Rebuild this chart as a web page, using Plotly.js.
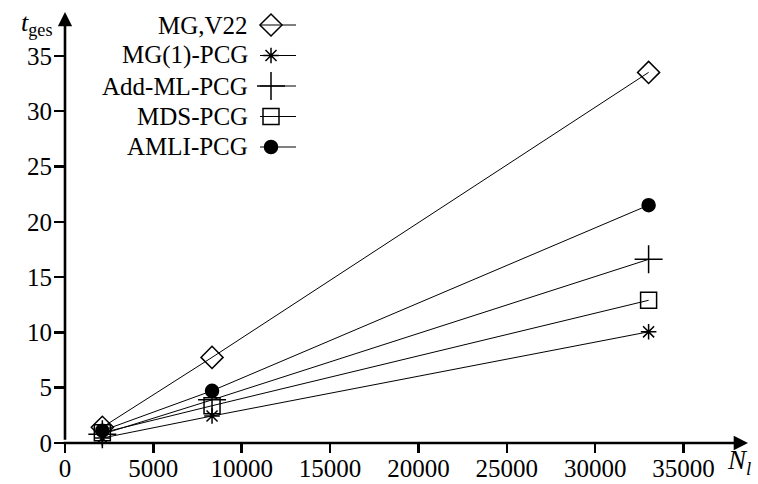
<!DOCTYPE html>
<html>
<head>
<meta charset="utf-8">
<script src="https://cdn.plot.ly/plotly-3.0.1.min.js"></script>
<style>html,body{margin:0;padding:0;background:#fff;}#chart{width:758px;height:484px;}</style>
</head>
<body>
<div id="chart"></div>
<script>
// ---- data ----
const N_l = [2113, 8321, 33025];
const seriesNames = ["MG,V22", "MG(1)-PCG", "Add-ML-PCG", "MDS-PCG", "AMLI-PCG"];
const mgV22   = [1.42, 7.74, 33.5];
const mg1pcg  = [0.45, 2.44, 10.05];
const addML   = [0.80, 3.90, 16.6];
const mdsPCG  = [0.93, 3.37, 12.9];
const amliPCG = [1.11, 4.72, 21.5];
const xTicks = [0, 5000, 10000, 15000, 20000, 25000, 30000, 35000];
const yTicks = [0, 5, 10, 15, 20, 25, 30, 35];

// ---- styles ----
const seriesValues = [mgV22, mg1pcg, addML, mdsPCG, amliPCG];
const symbols = ["diamond-open", "asterisk-open", "cross-thin-open", "square-open", "circle"];
const sizes = [17, 13, 20, 16, 13];
const FONT = "Liberation Serif, Times New Roman, serif";

// plot geometry (pixels)
const L = 65, R = 10, T = 12, B = 41;
const W = 758 - L - R, H = 484 - T - B;
const XMAX = 38650, YMAX = 38.96;

const traces = seriesValues.map((v, i) => ({
  x: N_l, y: v, type: "scatter", mode: "lines+markers",
  line: {color: "#000", width: 1},
  marker: {symbol: symbols[i], size: sizes[i], color: "#000",
           line: {color: "#000", width: 1.5}},
  showlegend: false, cliponaxis: false, hoverinfo: "skip"
}));

// custom legend: symbol to the right of the text
const legX0 = 260 - L, legX1 = 296 - L, legXM = 271 - L, legY0 = 25 - T, legDY = 30.5;
seriesNames.forEach((n, i) => {
  const yy = legY0 + i * legDY;
  traces.push({x: [legX0, legX1], y: [yy, yy], xaxis: "x2", yaxis: "y2", type: "scatter",
    mode: "lines", line: {color: "#000", width: 1}, showlegend: false, hoverinfo: "skip"});
  traces.push({x: [legXM], y: [yy], xaxis: "x2", yaxis: "y2", type: "scatter",
    mode: "markers", marker: {symbol: symbols[i], size: sizes[i], color: "#000",
    line: {color: "#000", width: 1.5}}, showlegend: false, hoverinfo: "skip", cliponaxis: false});
});

const annotations = seriesNames.map((n, i) => ({
  xref: "paper", yref: "paper", x: (250 - L) / W, y: 1 - (legY0 + i * legDY) / H,
  xanchor: "right", yanchor: "middle", text: n, showarrow: false,
  font: {family: FONT, size: 25, color: "#000"}
}));
// axis arrows
annotations.push({xref: "x", yref: "y", axref: "x", ayref: "y", x: XMAX, y: 0, ax: -250, ay: 0,
  text: " ", showarrow: true, arrowhead: 2, arrowsize: 1.1, arrowwidth: 2.6, arrowcolor: "#000"});
annotations.push({xref: "x", yref: "y", axref: "x", ayref: "y", x: 0, y: YMAX, ax: 0, ay: -0.6,
  text: " ", showarrow: true, arrowhead: 2, arrowsize: 1.1, arrowwidth: 2.6, arrowcolor: "#000"});
// axis titles
annotations.push({xref: "paper", yref: "paper", x: (36 - L) / W, y: 1 - (24 - T) / H,
  xanchor: "center", yanchor: "middle", text: "<i>t</i><sub>ges</sub>", showarrow: false,
  font: {family: FONT, size: 26, color: "#000"}});
annotations.push({xref: "paper", yref: "paper", x: (739 - L) / W, y: 1 - (462 - T) / H,
  xanchor: "center", yanchor: "middle", text: "<i>N</i><sub><i>l</i></sub>", showarrow: false,
  font: {family: FONT, size: 27, color: "#000"}});

const layout = {
  width: 758, height: 484,
  margin: {l: L, r: R, t: T, b: B, pad: 0},
  paper_bgcolor: "#fff", plot_bgcolor: "#fff",
  showlegend: false,
  xaxis: {range: [0, XMAX], tickvals: xTicks, ticktext: xTicks.map(String),
    showgrid: false, zeroline: false, showline: false,
    ticks: "outside", ticklen: 9, tickwidth: 2.5, tickcolor: "#000", ticklabelstandoff: -6,
    tickfont: {family: FONT, size: 25, color: "#000"}},
  yaxis: {range: [0, YMAX], tickvals: yTicks, ticktext: yTicks.map(String),
    showgrid: false, zeroline: false, showline: false,
    ticks: "outside", ticklen: 10, tickwidth: 2.5, tickcolor: "#000", ticklabelstandoff: -3,
    tickfont: {family: FONT, size: 25, color: "#000"}},
  xaxis2: {overlaying: "x", range: [0, W], visible: false, fixedrange: true},
  yaxis2: {overlaying: "y", range: [H, 0], visible: false, fixedrange: true},
  annotations: annotations
};

Plotly.newPlot("chart", traces, layout, {staticPlot: true, displayModeBar: false});
</script>
</body>
</html>
